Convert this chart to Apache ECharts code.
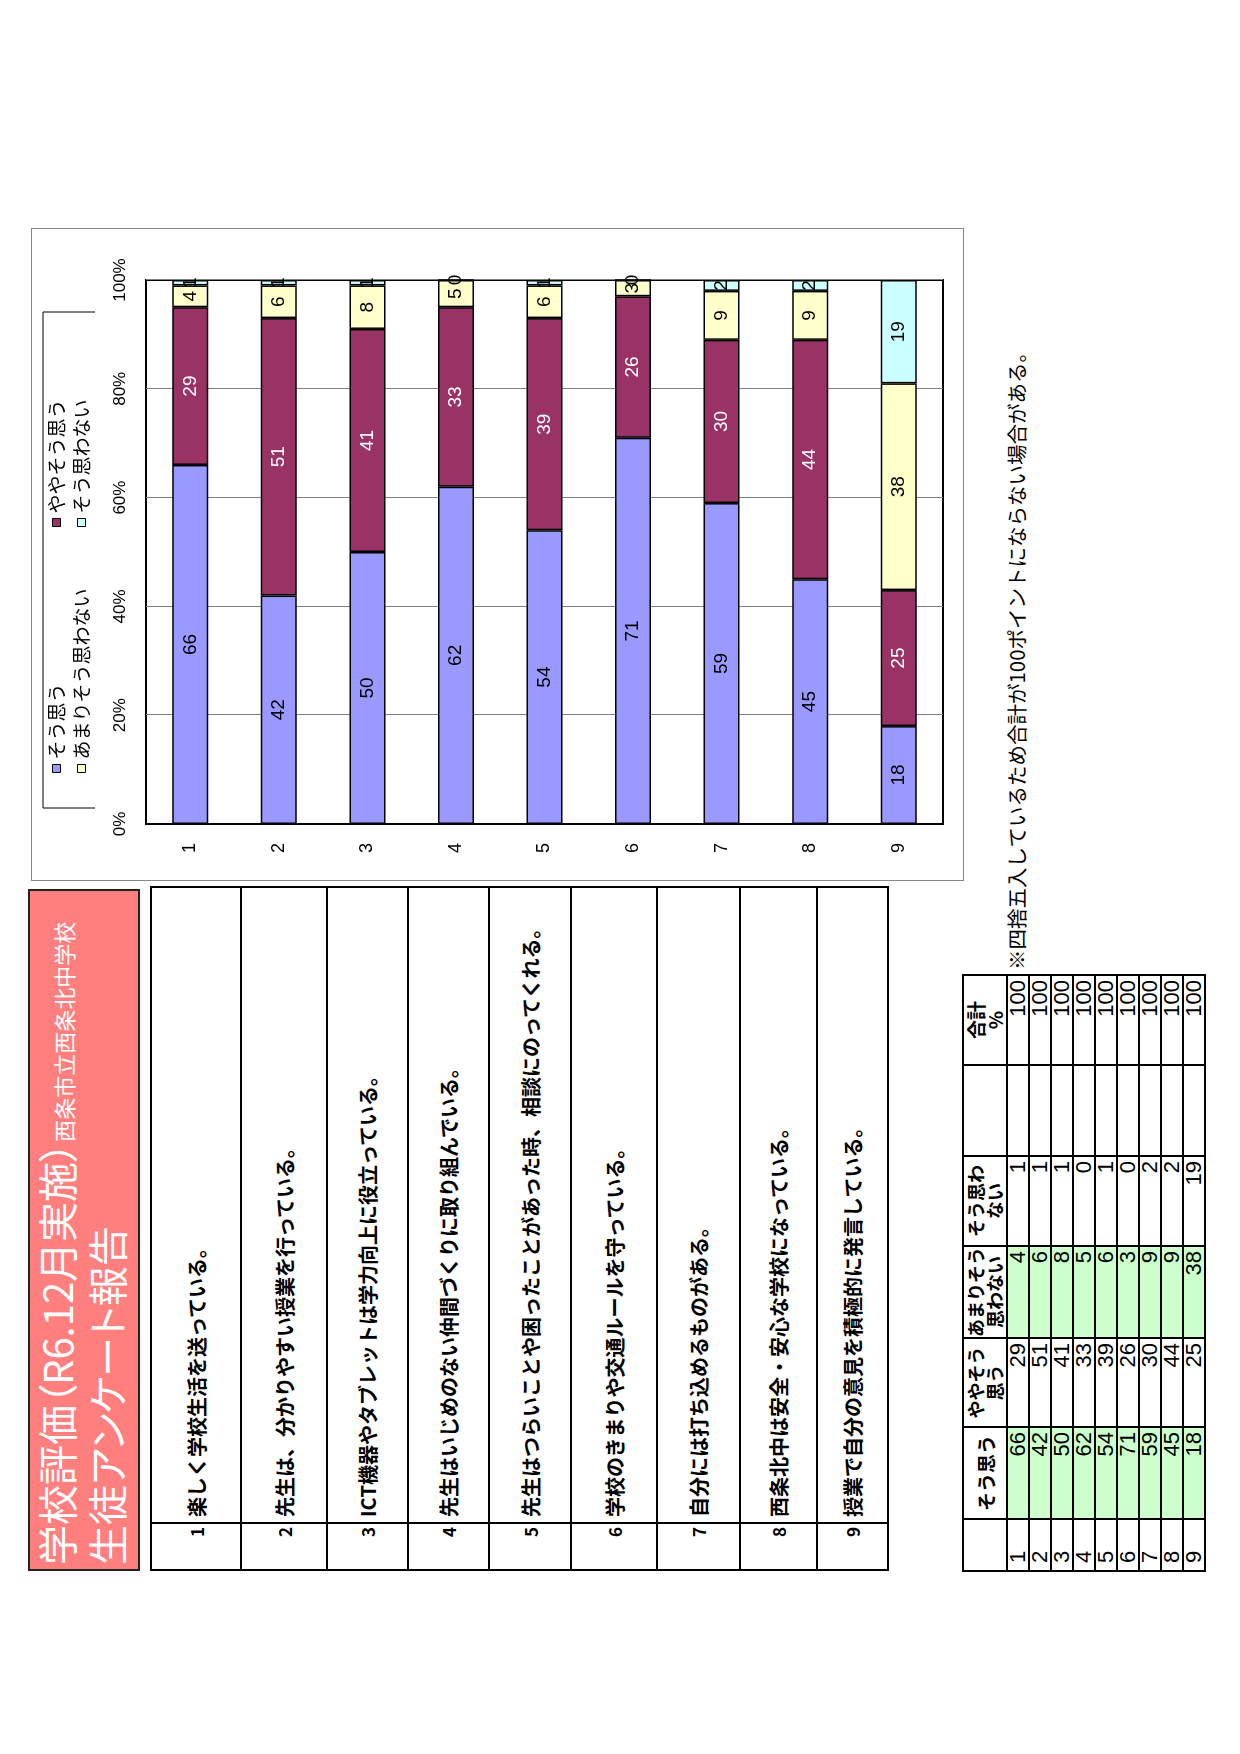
<!DOCTYPE html>
<html lang="ja">
<head>
<meta charset="utf-8">
<title>学校評価 生徒アンケート報告</title>
<script src="https://cdn.jsdelivr.net/npm/echarts@6/dist/echarts.min.js"></script>
<style>
body {
  margin: 0;
  width: 1240px;
  height: 1754px;
  overflow: hidden;
  background: #fff;
  font-family: "Noto Sans CJK JP", sans-serif;
}
/* landscape sheet, turned to fit the portrait page */
#page {
  position: absolute;
  left: 0;
  top: 0;
  width: 1754px;
  height: 1240px;
  transform-origin: 0 0;
  transform: translate(0, 1754px) rotate(-90deg);
}
#title {
  position: absolute;
  left: 183px;
  top: 28px;
  width: 682px;
  height: 112px;
  box-sizing: border-box;
  background: #ff7f7f;
  border: 2px solid #222;
  color: #fff;
  font-feature-settings: "palt";
}
#title .t1 { position: absolute; left: 4px; top: 4px; height: 44px; line-height: 44px; white-space: nowrap; }
#title .t2 { position: absolute; left: 4px; top: 54px; height: 44px; line-height: 44px; white-space: nowrap; font-size: 40px; }
#title .big { font-size: 40px; }
#title .small { font-size: 22px; }
#qtable {
  position: absolute;
  left: 183px;
  top: 150px;
  width: 685px;
  border-collapse: collapse;
  table-layout: fixed;
}
#qtable td { border: 2px solid #000; padding: 0; font-size: 20px; font-weight: bold; white-space: nowrap; }
#qtable td.no { width: 42px; text-align: right; padding-right: 3px; font-size: 17px; }
#qtable td.q { padding-left: 5px; }
#chartbox {
  position: absolute;
  left: 873px;
  top: 31px;
  width: 653px;
  height: 933px;
  box-sizing: border-box;
  border: 1px solid #888;
}
#chart { width: 651px; height: 931px; }
#note {
  position: absolute;
  left: 784px;
  top: 1004px;
  font-size: 20.5px;
  line-height: 24px;
  white-space: nowrap;
}
#dtable {
  position: absolute;
  left: 182px;
  top: 962px;
  border-collapse: collapse;
  table-layout: fixed;
}
#dtable td, #dtable th {
  border: 2px solid #000;
  padding: 0;
  height: 20px;
  font-size: 22px;
  line-height: 20px;
  font-family: "Liberation Sans Narrow", "Liberation Sans", Arial, sans-serif;
}
#dtable th { height: 42px; font-family: "Noto Sans CJK JP", sans-serif; font-weight: bold; line-height: 19px; font-size: 18px; white-space: nowrap; }
#dtable th.big { font-size: 19px; }
#dtable td { text-align: right; padding-right: 4px; }
#dtable td.no { text-align: left; padding-left: 7px; padding-right: 0; }
#dtable td.g { background: #ccffcc; }
</style>
</head>
<body>
<div id="page">
  <div id="title">
    <div class="t1"><span class="big">学校評価（R6.12月実施）</span><span class="small">西条市立西条北中学校</span></div>
    <div class="t2">生徒アンケート報告</div>
  </div>
  <table id="qtable"></table>
  <div id="chartbox"><div id="chart"></div></div>
  <div id="note">※四捨五入しているため合計が100ポイントにならない場合がある。</div>
  <table id="dtable"></table>
</div>
<script>
var categories = ['1', '2', '3', '4', '5', '6', '7', '8', '9']
var questions = [
  '楽しく学校生活を送っている。',
  '先生は、分かりやすい授業を行っている。',
  'ICT機器やタブレットは学力向上に役立っている。',
  '先生はいじめのない仲間づくりに取り組んでいる。',
  '先生はつらいことや困ったことがあった時、相談にのってくれる。',
  '学校のきまりや交通ルールを守っている。',
  '自分には打ち込めるものがある。',
  '西条北中は安全・安心な学校になっている。',
  '授業で自分の意見を積極的に発言している。'
]
var seriesNames = ['そう思う', 'ややそう思う', 'あまりそう思わない', 'そう思わない']
var agree = [66, 42, 50, 62, 54, 71, 59, 45, 18]
var somewhat = [29, 51, 41, 33, 39, 26, 30, 44, 25]
var notMuch = [4, 6, 8, 5, 6, 3, 9, 9, 38]
var disagree = [1, 1, 1, 0, 1, 0, 2, 2, 19]
var totals = [100, 100, 100, 100, 100, 100, 100, 100, 100]
var tableHeads = ['', 'そう思う', 'ややそう<br>思う', 'あまりそう<br>思わない', 'そう思わ<br>ない', '', '合計<br>%']

// question table
var qRowHeights = [90, 86, 81, 81, 82, 86, 83, 77, 71]
var qHtml = ''
for (var i = 0; i < questions.length; i++) {
  qHtml += '<tr style="height:' + qRowHeights[i] + 'px"><td class="no">' + categories[i] +
    '</td><td class="q">' + questions[i] + '</td></tr>'
}
document.getElementById('qtable').innerHTML = qHtml

// data table
var colWidths = [52, 92, 89, 89, 90, 91, 90]
var dHtml = '<colgroup>'
colWidths.forEach(function(w) { dHtml += '<col style="width:' + w + 'px">' })
dHtml += '</colgroup><tr>'
tableHeads.forEach(function(h, k) {
  dHtml += '<th' + (k === 1 || k === 6 ? ' class="big"' : '') + '>' + h + '</th>'
})
dHtml += '</tr>'
for (var r = 0; r < categories.length; r++) {
  dHtml += '<tr><td class="no">' + categories[r] + '</td>' +
    '<td class="g">' + agree[r] + '</td>' +
    '<td>' + somewhat[r] + '</td>' +
    '<td class="g">' + notMuch[r] + '</td>' +
    '<td>' + disagree[r] + '</td>' +
    '<td></td>' +
    '<td>' + totals[r] + '</td></tr>'
}
document.getElementById('dtable').innerHTML = dHtml

// chart
var colors = ['#9999ff', '#993366', '#ffffcc', '#ccffff']
var labelColors = ['#000', '#fff', '#000', '#000']
var values = [agree, somewhat, notMuch, disagree]
var narrow = '"Liberation Sans Narrow", "Liberation Sans", sans-serif'

var series = seriesNames.map(function(name, k) {
  return {
    name: name,
    type: 'bar',
    stack: 'total',
    barWidth: 36,
    data: values[k],
    itemStyle: { color: colors[k], borderColor: '#000', borderWidth: 1.5 },
    label: {
      show: true,
      position: 'inside',
      color: labelColors[k],
      fontSize: 19,
      fontFamily: narrow
    }
  }
})

// legend laid out in two rows, two columns
var legendPos = [[107, 15], [353, 15], [107, 40], [353, 40]]
var legends = seriesNames.map(function(name, k) {
  return {
    data: [name],
    left: legendPos[k][0],
    top: legendPos[k][1],
    padding: 0,
    itemWidth: 8,
    itemHeight: 8,
    icon: 'rect',
    itemStyle: { borderColor: '#000', borderWidth: 1 },
    textStyle: { fontSize: 19, color: '#000', fontFamily: 'Noto Sans CJK JP' },
    selectedMode: false
  }
})

var chart = echarts.init(document.getElementById('chart'))
chart.setOption({
  animation: false,
  color: colors,
  legend: legends,
  graphic: [{
    type: 'polyline',
    shape: { points: [[72, 63], [72, 11], [568, 11], [568, 63]] },
    style: { stroke: '#000', lineWidth: 1, fill: null }
  }],
  grid: {
    left: 56,
    right: 51,
    top: 114,
    bottom: 20,
    show: true,
    borderColor: '#000',
    borderWidth: 2,
    backgroundColor: '#fff'
  },
  xAxis: {
    type: 'value',
    position: 'top',
    min: 0,
    max: 100,
    interval: 20,
    axisLine: { show: false },
    axisTick: { show: false },
    axisLabel: { formatter: '{value}%', margin: 17, fontSize: 17, color: '#000', fontFamily: narrow },
    splitLine: { lineStyle: { color: '#808080', width: 1 } }
  },
  yAxis: {
    type: 'category',
    inverse: true,
    data: categories,
    axisLine: { lineStyle: { color: '#000', width: 2 } },
    axisTick: { inside: true, length: 8, lineStyle: { color: '#000', width: 1 } },
    axisLabel: { margin: 19, fontSize: 18, color: '#000', fontFamily: narrow }
  },
  series: series
})
</script>
</body>
</html>
